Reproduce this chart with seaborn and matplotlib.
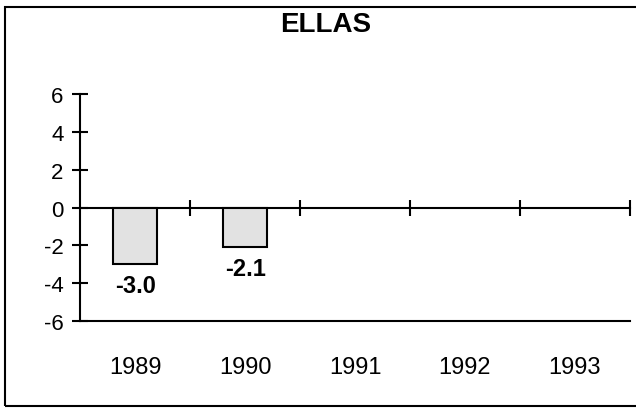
import numpy as np
import pandas as pd
import seaborn as sns
import matplotlib.pyplot as plt
from matplotlib.patches import Rectangle

# --- Data ---
years = ["1989", "1990", "1991", "1992", "1993"]
values = [-3.0, -2.1, np.nan, np.nan, np.nan]
y_ticks = [-6, -4, -2, 0, 2, 4, 6]
title = "ELLAS"

df = pd.DataFrame({"year": years, "value": values})

sns.set_style("white")
plt.rcParams["font.family"] = ["Liberation Sans", "DejaVu Sans"]
plt.rcParams["axes.unicode_minus"] = False
plt.rcParams["text.color"] = "black"

fig = plt.figure(figsize=(6.36, 4.10), dpi=100)
ax = fig.add_axes([0.126, 0.2146, 0.8644, 0.5537])

sns.barplot(data=df, x="year", y="value", order=years, width=0.4,
            color="#e2e2e2", edgecolor="black", linewidth=1.5,
            saturation=1, ax=ax)

ax.set_ylim(-6, 6)
ax.set_xlim(-0.5, len(years) - 0.5)
ax.set_yticks(y_ticks)
ax.set_xlabel("")
ax.set_ylabel("")

for s in ["top", "right"]:
    ax.spines[s].set_visible(False)
for s in ["left", "bottom"]:
    ax.spines[s].set_linewidth(1.5)
    ax.spines[s].set_color("black")

ax.tick_params(axis="y", left=True, direction="inout", length=12, width=1.5,
               labelsize=16, pad=6, colors="black")
ax.tick_params(axis="x", bottom=False, length=0, labelsize=17, pad=25, colors="black")

# zero line with ticks at the category boundaries
zero = ax.secondary_xaxis(0.5)
zero.set_xticks(np.arange(len(years)) + 0.5)
zero.tick_params(axis="x", top=True, direction="inout", length=12, width=1.5,
                 labeltop=False, labelbottom=False, colors="black")
zero.spines["top"].set_linewidth(1.5)
zero.spines["bottom"].set_linewidth(1.5)
zero.spines["top"].set_color("black")

for c in ax.containers:
    ax.bar_label(c, fmt="%.1f", padding=7, fontsize=17, fontweight="bold",
                 color="black")

fig.text(0.512, 0.94, title, ha="center", va="center",
         fontsize=20, fontweight="bold", color="black")

fig.patches.append(Rectangle((0.008, 0.007), 1.2, 0.973, transform=fig.transFigure,
                             fill=False, edgecolor="black", linewidth=1.5))

fig.savefig("out.png", dpi=100)
